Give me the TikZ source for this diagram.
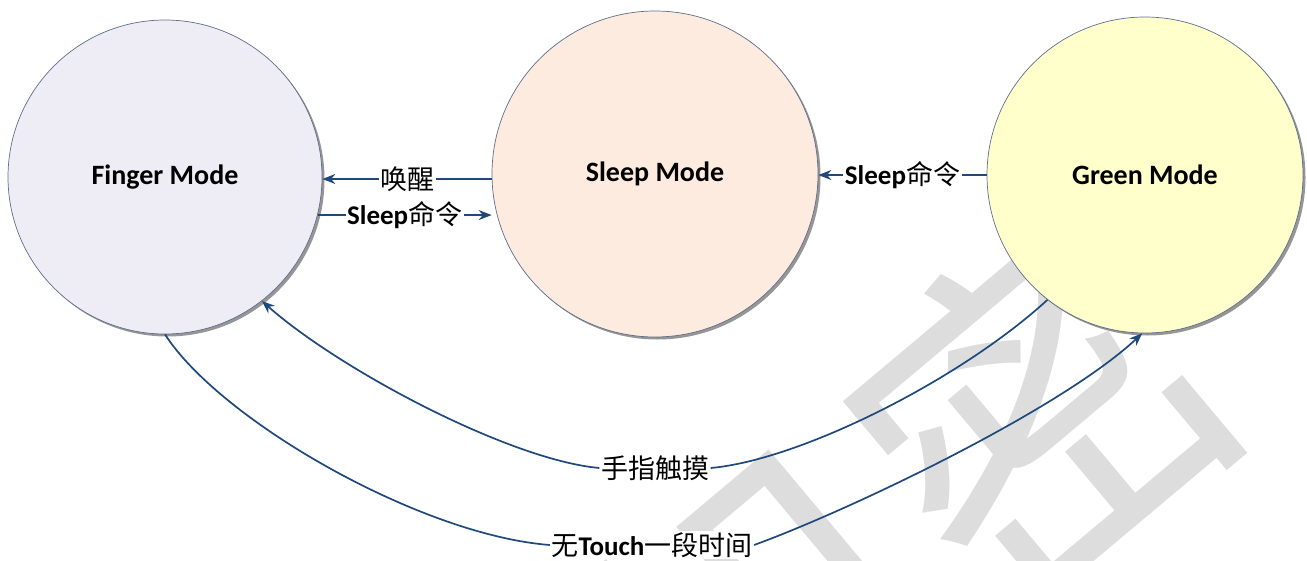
\documentclass[tikz,border=0pt]{standalone}
\usepackage{fontspec}
\setmainfont{Carlito}
\newfontfamily\cjk{Noto Sans CJK SC}
\usetikzlibrary{arrows.meta,shadows}
\definecolor{arrowblue}{RGB}{31,73,125}
\definecolor{ringline}{RGB}{96,110,140}
\definecolor{fingerfill}{RGB}{238,237,245}
\definecolor{sleepfill}{RGB}{252,235,222}
\definecolor{greenfill}{RGB}{255,255,204}
\definecolor{wmgray}{RGB}{221,221,221}
\definecolor{shadowgray}{RGB}{150,150,150}
\begin{document}
\begin{tikzpicture}[x=1pt,y=-1pt,
  state/.style={circle, draw=ringline, line width=0.7pt, inner sep=0pt,
    font=\bfseries\fontsize{28}{32}\selectfont,
    drop shadow={shadow xshift=2.5pt, shadow yshift=-2.5pt, fill=shadowgray, opacity=1}},
  link/.style={draw=arrowblue, line width=1.7pt},
  conn/.style={link, -{Stealth[length=13pt,width=10pt]}},
  lbl/.style={fill=white, inner sep=1.5pt, font=\fontsize{27}{30}\selectfont, text=black},
]
\useasboundingbox (0,0) rectangle (1307,560);
% watermark
\node[text=wmgray, inner sep=0pt, font=\cjk\fontsize{360}{360}\selectfont, rotate=40] (wm) at (907,521) {机密};
% states
\node[state, fill=fingerfill, minimum size=314pt] (F) at (165,177) {Finger Mode};
\node[state, fill=sleepfill, minimum size=326pt] (S) at (655,174) {Sleep Mode};
\node[state, fill=greenfill, minimum size=316pt] (G) at (1145,175) {Green Mode};
% straight connectors
\coordinate (w1) at (408,179);
\draw[conn] (S.west |- w1) -- node[lbl] (wake) {\cjk 唤醒} (F.east |- w1);
\draw[conn] (F.-14) -- node[lbl] (sc1) {\textbf{Sleep}{\cjk 命令}} (S.west |- F.-14);
\draw[conn] (G.west) -- node[lbl] (sc2) {\textbf{Sleep}{\cjk 命令}} (S.east |- G.west);
% curved connectors
\node[lbl] (touch) at (655,468) {\cjk 手指触摸};
\node[lbl] (notouch) at (652,545) {{\cjk 无}\textbf{Touch}{\cjk 一段时间}};
\draw[link] (G.-128) .. controls (960,380) and (800,460) .. (touch.east);
\draw[conn] (touch.west) .. controls (510,460) and (340,370) .. (F.-52);
\draw[link] (F.-90) .. controls (220,420) and (420,535) .. (notouch.west);
\draw[conn] (notouch.east) .. controls (850,510) and (1060,410) .. (G.-91);
\end{tikzpicture}
\end{document}
